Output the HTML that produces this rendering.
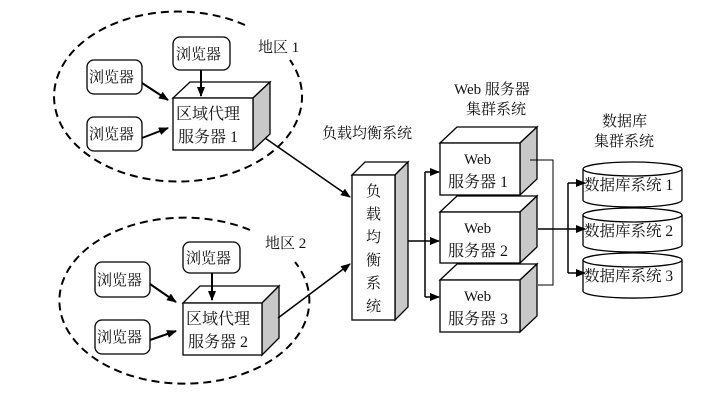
<!DOCTYPE html>
<html><head><meta charset="utf-8"><style>
body{margin:0;background:#fff}
svg text{font-family:"Liberation Serif","Noto Serif CJK SC","Noto Sans CJK SC",serif;font-size:15px;fill:#111}
</style></head><body>
<svg width="723" height="413" viewBox="0 0 723 413" xmlns="http://www.w3.org/2000/svg">
<defs>
<marker id="a" markerWidth="10" markerHeight="10" refX="9" refY="5" orient="auto" markerUnits="userSpaceOnUse"><path d="M0,1 L10,5 L0,9 Z" fill="#000"/></marker>
</defs>
<g fill="none" stroke="#000" stroke-width="2" stroke-dasharray="8,5">
<path d="M245,25 A124,85 0 1 0 290,60"/>
<path d="M250,230 A125,83 0 1 0 295,262"/>
</g>
<text x="258" y="52">地区 1</text>
<text x="265" y="248">地区 2</text>
<text x="322" y="138">负载均衡系统</text>
<text x="454" y="94">Web 服务器</text>
<text x="466" y="114">集群系统</text>
<text x="602" y="126">数据库</text>
<text x="594" y="146">集群系统</text>

<g stroke="#000" stroke-width="1.3" fill="#fff">
<rect x="173" y="37" width="57" height="33" rx="7"/>
<rect x="87" y="60" width="55" height="34" rx="7"/>
<rect x="87" y="117" width="55" height="34" rx="7"/>
<rect x="183" y="242" width="57" height="31" rx="7"/>
<rect x="95" y="262" width="55" height="35" rx="7"/>
<rect x="95" y="320" width="55" height="34" rx="7"/>
</g>
<g style="font-size:15px">
<text x="176" y="59">浏览器</text>
<text x="89" y="82">浏览器</text>
<text x="89" y="139">浏览器</text>
<text x="186" y="263">浏览器</text>
<text x="97" y="285">浏览器</text>
<text x="97" y="342">浏览器</text>
</g>

<g stroke="#000" stroke-width="1.3">
<path d="M173,98 L190,82 L270,82 L253,98 Z" fill="#fff"/>
<path d="M253,98 L270,82 L270,134 L253,150 Z" fill="#c8c8c8"/>
<rect x="173" y="98" width="80" height="52" fill="#fff"/>
<path d="M183,303 L200,286 L279,286 L262,303 Z" fill="#fff"/>
<path d="M262,303 L279,286 L279,338 L262,355 Z" fill="#c8c8c8"/>
<rect x="183" y="303" width="79" height="52" fill="#fff"/>
<path d="M352,175 L365,162 L408,162 L395,175 Z" fill="#fff"/>
<path d="M395,175 L408,162 L408,307 L395,320 Z" fill="#c8c8c8"/>
<rect x="352" y="175" width="43" height="145" fill="#fff"/>
</g>
<text x="176" y="119" style="font-size:16px">区域代理</text>
<text x="178" y="142" style="font-size:16px">服务器 1</text>
<text x="186" y="324" style="font-size:16px">区域代理</text>
<text x="188" y="347" style="font-size:16px">服务器 2</text>
<g style="font-size:15px">
<text x="366" y="196">负</text><text x="366" y="219">载</text><text x="366" y="242">均</text><text x="366" y="265">衡</text><text x="366" y="288">系</text><text x="366" y="311">统</text>
</g>

<g stroke="#000" stroke-width="1.3">
<path d="M440,143 L457,127 L537,127 L520,143 Z" fill="#fff"/>
<path d="M520,143 L537,127 L537,179 L520,195 Z" fill="#c8c8c8"/>
<rect x="440" y="143" width="80" height="52" fill="#fff"/>
<path d="M440,212 L457,196 L537,196 L520,212 Z" fill="#fff"/>
<path d="M520,212 L537,196 L537,247 L520,263 Z" fill="#c8c8c8"/>
<rect x="440" y="212" width="80" height="51" fill="#fff"/>
<path d="M440,280 L457,264 L537,264 L520,280 Z" fill="#fff"/>
<path d="M520,280 L537,264 L537,316 L520,332 Z" fill="#c8c8c8"/>
<rect x="440" y="280" width="80" height="52" fill="#fff"/>
</g>
<text x="464" y="164" style="font-size:15px">Web</text><text x="448" y="187" style="font-size:16px">服务器 1</text>
<text x="464" y="233" style="font-size:15px">Web</text><text x="448" y="256" style="font-size:16px">服务器 2</text>
<text x="464" y="301" style="font-size:15px">Web</text><text x="448" y="324" style="font-size:16px">服务器 3</text>

<g stroke="#000" stroke-width="1.3" fill="#fff">
<path d="M583,169 L583,200 A49,7 0 0 0 682,200 L682,169"/>
<ellipse cx="632.5" cy="169" rx="49.5" ry="7"/>
<path d="M583,215 L583,245 A49,7 0 0 0 682,245 L682,215"/>
<ellipse cx="632.5" cy="215" rx="49.5" ry="7"/>
<path d="M583,260 L583,291 A49,7 0 0 0 682,291 L682,260"/>
<ellipse cx="632.5" cy="260" rx="49.5" ry="7"/>
</g>
<text x="584" y="190" style="font-size:15.5px">数据库系统 1</text>
<text x="584" y="236" style="font-size:15.5px">数据库系统 2</text>
<text x="584" y="281" style="font-size:15.5px">数据库系统 3</text>

<g stroke="#000" fill="none">
<g stroke-width="2">
<line x1="201" y1="70" x2="201" y2="96" marker-end="url(#a)"/>
<line x1="142" y1="83" x2="168" y2="100" marker-end="url(#a)"/>
<line x1="142" y1="138" x2="168" y2="128" marker-end="url(#a)"/>
<line x1="212" y1="273" x2="212" y2="300" marker-end="url(#a)"/>
<line x1="150" y1="284" x2="176" y2="302" marker-end="url(#a)"/>
<line x1="150" y1="340" x2="176" y2="331" marker-end="url(#a)"/>
</g>
<line x1="265" y1="138" x2="350" y2="197" stroke-width="1.5" marker-end="url(#a)"/>
<line x1="278" y1="318" x2="350" y2="264" stroke-width="1.5" marker-end="url(#a)"/>
<path d="M408,241 L425,241" stroke-width="1.5"/>
<path d="M425,172 L425,297" stroke-width="1.5"/>
<line x1="425" y1="172" x2="439" y2="172" stroke-width="1.5" marker-end="url(#a)"/>
<line x1="425" y1="241" x2="439" y2="241" stroke-width="1.5" marker-end="url(#a)"/>
<line x1="425" y1="297" x2="439" y2="297" stroke-width="1.5" marker-end="url(#a)"/>
<path d="M530,160 L553,160 L553,285 L538,285" stroke-width="1"/>
<path d="M538,229 L568,229" stroke-width="1.5"/>
<path d="M568,183 L568,273" stroke-width="1.5"/>
<line x1="568" y1="183" x2="585" y2="183" stroke-width="1.5" marker-end="url(#a)"/>
<line x1="568" y1="229" x2="585" y2="229" stroke-width="1.5" marker-end="url(#a)"/>
<line x1="568" y1="273" x2="585" y2="273" stroke-width="1.5" marker-end="url(#a)"/>
</g>
</svg>
</body></html>
